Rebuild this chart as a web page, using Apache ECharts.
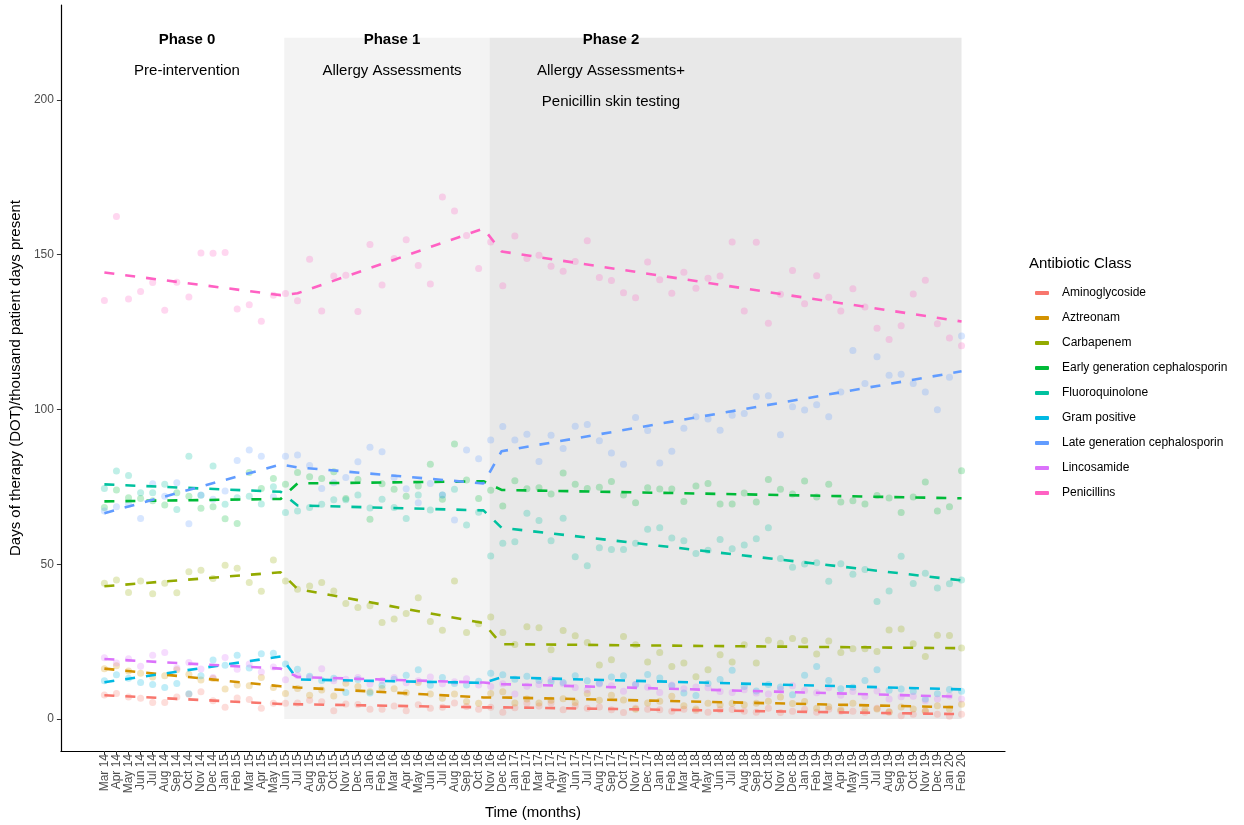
<!DOCTYPE html>
<html>
<head>
<meta charset="utf-8">
<title>Antibiotic DOT</title>
<script src="https://cdn.jsdelivr.net/npm/echarts@6.0.0/dist/echarts.min.js"></script>
<style>
  html, body { margin: 0; padding: 0; background: #fff; }
  #chart { width: 1244px; height: 825px; }
</style>
</head>
<body>
<div id="chart"></div>
<script>
// month labels, Mar 14 .. Feb 20
var months = ['Mar 14','Apr 14','May 14','Jun 14','Jul 14','Aug 14','Sep 14','Oct 14','Nov 14','Dec 14',
  'Jan 15','Feb 15','Mar 15','Apr 15','May 15','Jun 15','Jul 15','Aug 15','Sep 15','Oct 15','Nov 15','Dec 15',
  'Jan 16','Feb 16','Mar 16','Apr 16','May 16','Jun 16','Jul 16','Aug 16','Sep 16','Oct 16','Nov 16','Dec 16',
  'Jan 17','Feb 17','Mar 17','Apr 17','May 17','Jun 17','Jul 17','Aug 17','Sep 17','Oct 17','Nov 17','Dec 17',
  'Jan 18','Feb 18','Mar 18','Apr 18','May 18','Jun 18','Jul 18','Aug 18','Sep 18','Oct 18','Nov 18','Dec 18',
  'Jan 19','Feb 19','Mar 19','Apr 19','May 19','Jun 19','Jul 19','Aug 19','Sep 19','Oct 19','Nov 19','Dec 19',
  'Jan 20','Feb 20'];

var yTicks = [0, 50, 100, 150, 200];

var classes = ['Aminoglycoside','Aztreonam','Carbapenem','Early generation cephalosporin','Fluoroquinolone',
  'Gram positive','Late generation cephalosporin','Lincosamide','Penicillins'];
var colors = ['#F8766D','#D39200','#93AA00','#00BA38','#00C19F','#00B9E3','#619CFF','#DB72FB','#FF61C3'];

// monthly DOT per class
var aminoglycoside = [7.8,8.3,7.1,6.7,5.4,5.4,7.1,8.0,8.8,5.9,3.8,6.8,6.3,3.5,5.1,
  5.1,5.2,6.1,5.6,2.7,4.9,4.7,3.2,3.2,4.2,2.7,4.6,3.5,3.8,5.2,4.1,3.2,
  3.8,2.2,3.7,5.2,4.2,5.2,3.0,4.3,3.5,3.9,3.0,2.1,3.5,3.2,3.0,2.5,3.2,2.8,2.2,3.0,
  3.1,2.5,2.2,3.5,2.1,2.5,3.2,2.2,3.2,2.5,2.5,2.2,3.5,2.2,1.1,1.6,2.5,1.6,0.9,1.6];
var aztreonam = [16.3,17.2,15.5,14.8,13.6,14.0,15.9,14.5,12.6,13.1,9.7,11.0,10.8,13.4,10.2,
  8.3,9.9,7.7,9.4,7.5,11.6,10.5,8.8,9.9,9.8,8.5,11.8,8.1,6.7,8.1,5.7,5.1,
  8.3,8.8,5.2,6.5,5.2,6.1,6.6,5.4,8.3,6.1,7.7,6.2,3.2,5.2,5.8,7.4,4.3,3.3,5.1,4.6,
  5.1,4.6,5.1,5.8,7.1,5.0,5.7,3.5,4.0,3.0,5.1,3.1,3.3,2.4,3.9,3.3,2.6,4.3,3.3,4.8];
var carbapenem = [43.9,44.9,40.9,44.6,40.5,43.9,40.8,47.6,48.1,45.4,49.7,48.7,44.1,41.3,51.4,
  44.6,41.9,43.0,44.1,41.4,37.3,36.0,36.6,31.2,32.3,34.1,39.2,31.5,28.7,44.6,28.0,30.8,
  33.0,28.0,24.1,29.8,29.5,22.4,28.6,26.9,24.7,17.5,19.2,26.7,24.0,18.4,21.5,17.0,18.1,13.7,15.9,20.8,
  18.4,24.0,18.1,25.5,24.5,26.0,25.4,21.0,25.2,21.5,22.7,22.7,21.8,28.8,29.1,24.3,20.2,27.1,27.0,23.0];
var earlyGen = [68.3,74.0,71.5,71.2,70.5,69.1,73.1,72.0,68.1,68.6,64.7,63.2,79.6,74.5,77.7,
  75.8,79.6,78.3,77.7,79.9,71.2,77.4,64.5,76.0,74.2,72.0,75.3,82.3,71.0,88.8,77.2,71.2,
  73.9,68.8,77.0,74.4,74.7,72.7,79.5,75.8,74.5,74.9,76.7,72.4,69.9,74.7,74.3,74.3,70.3,75.3,76.1,69.5,
  69.5,73.0,70.1,77.4,74.2,72.7,76.9,71.7,75.8,70.1,70.5,69.5,72.2,71.4,66.7,71.7,76.6,67.2,68.6,80.2];
var fluoro = [74.5,80.1,78.7,73.1,73.1,75.8,67.7,84.9,72.3,81.7,69.4,71.5,72.0,69.5,75.0,
  66.7,67.2,68.3,69.4,70.8,70.8,72.4,68.2,71.0,68.3,64.8,72.4,67.5,72.4,74.2,62.7,66.8,
  52.7,56.8,57.3,66.5,64.1,57.6,64.9,52.4,49.5,55.3,54.8,54.8,56.8,61.3,61.8,58.5,57.6,53.5,54.5,58.0,
  55.0,56.2,58.2,61.8,51.9,49.0,50.1,50.5,44.5,50.2,46.8,48.3,38.0,41.4,52.6,43.8,47.1,42.3,43.7,44.9];
var gramPos = [12.4,14.3,13.2,11.8,11.2,10.2,11.5,8.2,14.0,19.1,17.4,20.6,16.5,21.1,21.3,
  17.8,16.1,13.8,12.5,13.2,8.6,12.8,8.4,10.9,12.9,14.2,15.9,10.9,13.4,11.5,11.0,12.2,
  14.8,14.3,12.9,13.8,12.5,12.1,11.8,14.0,12.4,11.6,13.6,14.0,11.2,14.4,13.3,10.8,8.4,7.6,11.5,12.8,
  15.8,10.5,9.1,11.2,10.4,7.9,14.2,17.0,12.5,9.8,10.3,12.5,15.9,9.3,9.7,8.9,6.5,8.2,9.6,9.0];
var lateGen = [67.2,68.6,69.4,64.8,76.0,72.0,76.3,63.1,72.4,71.0,73.7,83.5,86.9,84.9,71.8,
  84.9,85.3,81.9,74.5,76.3,78.0,83.1,87.8,86.3,78.0,74.4,69.9,76.1,72.4,64.3,86.9,84.1,
  90.1,94.5,90.1,92.0,83.2,91.7,87.4,94.6,95.1,89.9,85.9,82.3,97.4,93.2,82.7,86.5,93.9,97.6,96.9,93.3,
  98.1,98.7,104.2,104.4,91.8,100.9,99.8,101.5,97.6,105.6,119.0,108.4,117.0,111.0,111.4,108.4,105.6,99.9,110.4,123.7];
var lincosamide = [19.8,18.1,19.5,17.1,20.6,21.5,16.5,18.3,16.2,13.4,19.9,16.1,17.8,15.2,16.8,
  12.7,14.1,13.4,16.3,12.4,12.9,13.4,11.3,12.5,13.4,11.7,12.4,13.6,11.4,12.1,13.0,11.0,
  10.5,11.4,8.1,10.6,11.2,12.8,11.4,10.2,9.5,11.3,10.8,9.0,11.2,10.3,8.6,11.0,9.8,10.4,10.1,8.9,
  8.6,9.5,8.4,8.1,9.6,10.8,9.2,8.5,10.1,7.7,8.9,7.4,9.1,6.5,7.2,7.4,5.9,6.5,7.5,6.5];
var penicillins = [135.2,162.3,135.7,138.1,141.0,132.0,141.1,136.3,150.5,150.4,150.7,132.4,133.8,128.5,136.9,
  137.4,135.1,148.5,131.8,143.1,143.3,131.6,153.3,140.2,148.7,154.8,146.5,140.5,168.6,164.1,156.2,145.5,
  154.1,139.9,156.0,148.7,149.8,146.2,144.6,147.8,154.5,142.6,141.6,137.7,136.1,147.6,141.9,137.5,144.3,139.1,142.4,143.1,
  154.1,131.8,154.0,127.8,137.2,144.9,134.1,143.2,136.2,131.8,139.0,133.1,126.2,122.6,127.0,137.3,141.7,127.7,123.1,120.6];

// segmented trend: start/end of each phase (month index)
var trendX = [0, 14.6, 16, 31.4, 32.9, 71];
var trendAmino = [7.7, 4.9, 4.8, 3.8, 3.8, 1.6];
var trendAztreo = [16.3, 10.6, 10.2, 7.0, 7.0, 3.8];
var trendCarba = [42.9, 47.4, 42.0, 31.0, 24.2, 22.9];
var trendEarly = [70.3, 71.1, 76.1, 76.8, 74.0, 71.3];
var trendFluoro = [75.8, 73.4, 69.0, 67.4, 61.8, 44.8];
var trendGram = [11.9, 20.2, 12.8, 11.7, 13.5, 9.6];
var trendLate = [66.5, 82.2, 81.3, 76.1, 86.5, 112.3];
var trendLinco = [19.4, 16.3, 13.6, 11.8, 11.3, 7.2];
var trendPeni = [144.2, 136.9, 137.5, 158.4, 151.0, 128.4];

// phase shading (month index bounds)
var phaseBounds = [14.9, 31.9, 71];
var phaseTop = 220;

var points = [aminoglycoside, aztreonam, carbapenem, earlyGen, fluoro, gramPos, lateGen, lincosamide, penicillins];
var trends = [trendAmino, trendAztreo, trendCarba, trendEarly, trendFluoro, trendGram, trendLate, trendLinco, trendPeni];

var font = 'Liberation Sans, Arial, sans-serif';
var chart = echarts.init(document.getElementById('chart'));

var series = [{
    type: 'line',
    name: 'phases',
    data: [],
    silent: true,
    z: 0,
    markArea: {
        silent: true,
        data: [
            [{ xAxis: phaseBounds[0], yAxis: 0, itemStyle: { color: '#f3f3f3' } }, { xAxis: phaseBounds[1], yAxis: phaseTop }],
            [{ xAxis: phaseBounds[1], yAxis: 0, itemStyle: { color: '#e8e8e8' } }, { xAxis: phaseBounds[2], yAxis: phaseTop }]
        ]
    }
}];

classes.forEach(function (name, k) {
    series.push({
        type: 'line',
        name: name,
        data: trendX.map(function (x, j) { return [x, trends[k][j]]; }),
        showSymbol: false,
        symbol: 'none',
        z: 4,
        color: colors[k],
        lineStyle: { width: 2.6, type: [10, 11], color: colors[k] }
    });
    series.push({
        type: 'scatter',
        name: name,
        data: points[k].map(function (v, i) { return [i, v]; }),
        symbolSize: 7,
        z: 2,
        color: colors[k],
        itemStyle: { color: colors[k], opacity: 0.25 }
    });
});

var idx = months.map(function (m, i) { return i; });

function note(x, y, text, bold) {
    return {
        type: 'text', x: x, y: y, z: 100,
        style: { text: text, font: (bold ? 'bold ' : '') + '15px ' + font, fill: '#000', align: 'center', verticalAlign: 'middle' }
    };
}

var option = {
    animation: false,
    backgroundColor: '#ffffff',
    grid: { left: 60, right: 239, top: 5, bottom: 73 },
    xAxis: {
        type: 'value',
        min: -3.6,
        max: 74.6,
        name: 'Time (months)',
        nameLocation: 'middle',
        nameGap: 54,
        nameTextStyle: { fontFamily: font, fontSize: 15, color: '#000' },
        axisLine: { show: true, onZero: false, lineStyle: { color: '#000', width: 1.2 } },
        axisTick: { show: true, length: 4, customValues: idx, lineStyle: { color: '#333' } },
        axisLabel: {
            customValues: idx,
            rotate: 90,
            margin: 3,
            fontFamily: font,
            fontSize: 12,
            color: '#4d4d4d',
            hideOverlap: false,
            formatter: function (v) { return months[Math.round(v)] || ''; }
        },
        splitLine: { show: false }
    },
    yAxis: {
        type: 'value',
        min: -10.3,
        max: 230.6,
        name: 'Days of therapy (DOT)/thousand patient days present',
        nameLocation: 'middle',
        nameRotate: 90,
        nameGap: 31,
        nameTextStyle: { fontFamily: font, fontSize: 15, color: '#000' },
        axisLine: { show: true, onZero: false, lineStyle: { color: '#000', width: 1.2 } },
        axisTick: { show: true, length: 4, customValues: yTicks, lineStyle: { color: '#333' } },
        axisLabel: { customValues: yTicks, margin: 7, fontFamily: font, fontSize: 12, color: '#4d4d4d' },
        splitLine: { show: false }
    },
    legend: {
        data: classes,
        orient: 'vertical',
        left: 1030,
        top: 281,
        icon: 'roundRect',
        itemWidth: 14,
        itemHeight: 4,
        itemGap: 11,
        itemStyle: { opacity: 1 },
        textStyle: { fontFamily: font, fontSize: 12, color: '#000', lineHeight: 14, padding: [0, 0, 0, 8] }
    },
    graphic: [
        { type: 'text', left: 1029, top: 256, z: 100, style: { text: 'Antibiotic Class', font: '15px ' + font, fill: '#000' } },
        note(187, 40, 'Phase 0', true),
        note(187, 71, 'Pre-intervention', false),
        note(392, 40, 'Phase 1', true),
        note(392, 71, 'Allergy Assessments', false),
        note(611, 40, 'Phase 2', true),
        note(611, 71, 'Allergy Assessments+', false),
        note(611, 102, 'Penicillin skin testing', false)
    ],
    series: series
};

chart.setOption(option);
</script>
</body>
</html>
